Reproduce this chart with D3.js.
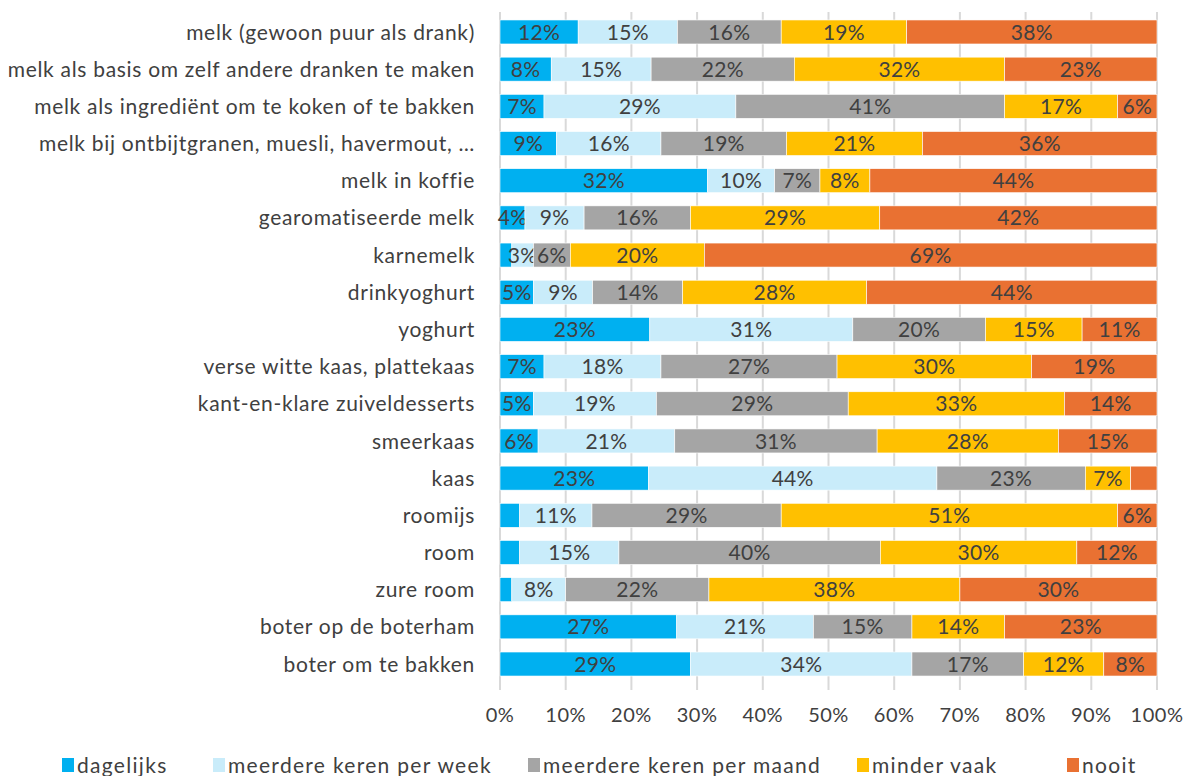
<!DOCTYPE html>
<html lang="nl">
<head>
<meta charset="UTF-8">
<title>Zuivelconsumptie</title>
<script src="https://d3js.org/d3.v7.min.js"></script>
<style>
  body { margin: 0; background: #fff; }
  svg { display: block; font-family: Lato, "Open Sans", sans-serif; }
  .grid line { stroke: #d9d9d9; stroke-width: 2; }
  .cat { fill: #404040; font-size: 21px; letter-spacing: 0.7px; }
  .val { fill: #404040; font-size: 21px; letter-spacing: 0.3px; }
  .tick-lbl { fill: #404040; font-size: 20px; letter-spacing: 0.5px; }
  .leg { fill: #404040; font-size: 21px; letter-spacing: 1.3px; }
</style>
</head>
<body>
<div id="chart"></div>
<script>
// categorieën (boven naar beneden)
const categories = [
  "melk (gewoon puur als drank)",
  "melk als basis om zelf andere dranken te maken",
  "melk als ingrediënt om te koken of te bakken",
  "melk bij ontbijtgranen, muesli, havermout, …",
  "melk in koffie",
  "gearomatiseerde melk",
  "karnemelk",
  "drinkyoghurt",
  "yoghurt",
  "verse witte kaas, plattekaas",
  "kant-en-klare zuiveldesserts",
  "smeerkaas",
  "kaas",
  "roomijs",
  "room",
  "zure room",
  "boter op de boterham",
  "boter om te bakken"
];

const seriesNames = ["dagelijks", "meerdere keren per week", "meerdere keren per maand", "minder vaak", "nooit"];
const seriesColors = ["#00b0f0", "#c9ecfa", "#a5a5a5", "#ffc000", "#e97132"];

// percentages per reeks, zelfde volgorde als categories
const dagelijks   = [11.9, 7.8, 6.7, 8.6, 31.6, 3.8, 1.8, 5.1, 22.8, 6.7, 5.1, 5.8, 22.6, 3.0, 3.0, 1.8, 26.9, 29.0];
const perWeek     = [15.1, 15.2, 29.2, 15.9, 10.2, 9.0, 3.3, 9.0, 30.9, 17.8, 18.7, 20.8, 43.9, 11.0, 15.1, 8.2, 20.8, 33.7];
const perMaand    = [15.8, 21.8, 40.9, 19.1, 6.9, 16.2, 5.6, 13.7, 20.2, 26.8, 29.2, 30.8, 22.6, 28.8, 39.8, 21.8, 15.0, 17.0];
const minderVaak  = [19.1, 32.0, 17.2, 20.7, 7.6, 28.8, 20.4, 28.0, 14.7, 29.6, 32.9, 27.6, 6.9, 51.2, 29.9, 38.2, 14.1, 12.2];
const nooit       = [38.1, 23.2, 6.0, 35.7, 43.7, 42.2, 68.9, 44.2, 11.4, 19.1, 14.1, 15.0, 4.0, 6.0, 12.2, 30.0, 23.2, 8.1];

// labels die in het origineel niet getoond worden: [categorie, reeks-index]
const hiddenLabels = [["karnemelk", 0], ["kaas", 4], ["roomijs", 0], ["room", 0], ["zure room", 0]];

const xTicks = [0, 10, 20, 30, 40, 50, 60, 70, 80, 90, 100];

const W = 1186, H = 776;
const left = 500, right = 1157;

const svg = d3.select("#chart").append("svg")
  .attr("width", W).attr("height", H);

const x = d3.scaleLinear().domain([0, 100]).range([left, right]);
const y = d3.scaleBand().domain(categories).range([13.4, 682.6])
  .paddingInner(0.3545).paddingOuter(0.177);

// rasterlijnen
svg.append("g").attr("class", "grid")
  .selectAll("line").data(xTicks).join("line")
  .attr("x1", d => x(d)).attr("x2", d => x(d))
  .attr("y1", 12).attr("y2", 690);

const allSeries = [dagelijks, perWeek, perMaand, minderVaak, nooit];
const rows = categories.map((c, i) => {
  const o = { cat: c };
  seriesNames.forEach((s, j) => o[s] = allSeries[j][i]);
  return o;
});
const stacked = d3.stack().keys(seriesNames)(rows);

const isHidden = (cat, k) => hiddenLabels.some(h => h[0] === cat && h[1] === k);

stacked.forEach((layer, k) => {
  const g = svg.append("g");
  g.selectAll("rect").data(layer).join("rect")
    .attr("x", d => x(d[0]))
    .attr("y", d => y(d.data.cat))
    .attr("width", d => x(d[1]) - x(d[0]))
    .attr("height", y.bandwidth())
    .attr("fill", seriesColors[k])
    .attr("stroke", "#fff")
    .attr("stroke-width", 0.6);
  g.selectAll("text").data(layer.filter(d => !isHidden(d.data.cat, k))).join("text")
    .attr("class", "val")
    .attr("x", d => (x(d[0]) + x(d[1])) / 2)
    .attr("y", d => y(d.data.cat) + y.bandwidth() / 2)
    .attr("dy", "0.36em")
    .attr("text-anchor", "middle")
    .text(d => Math.round(d[1] - d[0]) + "%");
});

// categorie-labels
svg.append("g").selectAll("text").data(categories).join("text")
  .attr("class", "cat")
  .attr("x", 475)
  .attr("y", d => y(d) + y.bandwidth() / 2)
  .attr("dy", "0.36em")
  .attr("text-anchor", "end")
  .text(d => d);

// x-as labels
svg.append("g").selectAll("text").data(xTicks).join("text")
  .attr("class", "tick-lbl")
  .attr("x", d => x(d))
  .attr("y", 722)
  .attr("text-anchor", "middle")
  .text(d => d + "%");

// legenda
const legX = [62, 213, 528, 857, 1067];
const leg = svg.append("g").selectAll("g").data(seriesNames).join("g")
  .attr("transform", (d, i) => `translate(${legX[i]},758)`);
leg.append("rect").attr("width", 12).attr("height", 14)
  .attr("fill", (d, i) => seriesColors[i]);
leg.append("text").attr("class", "leg")
  .attr("x", 15).attr("y", 7).attr("dy", "0.36em")
  .text(d => d);
</script>
</body>
</html>
